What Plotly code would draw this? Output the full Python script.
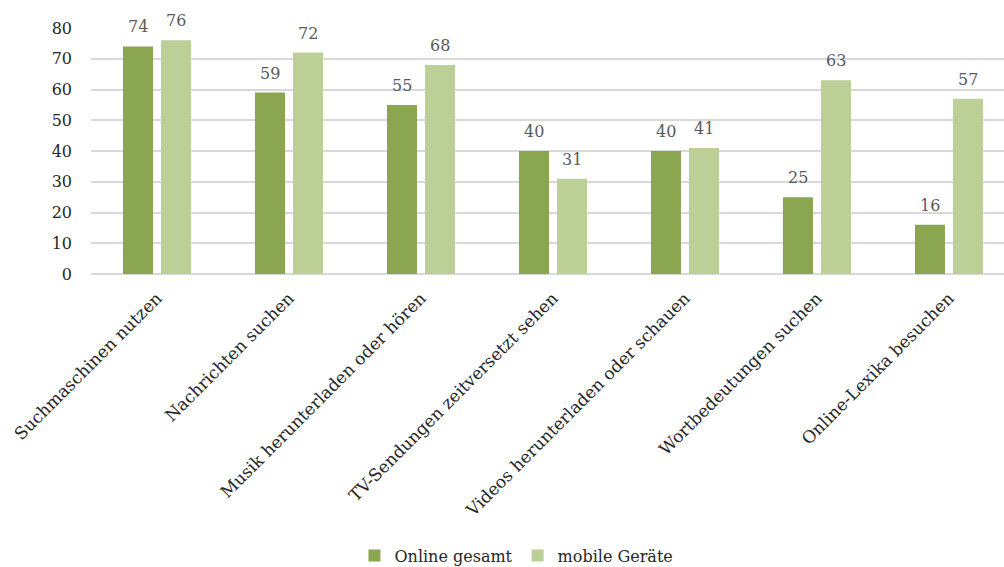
import plotly.graph_objects as go

categories = ["Suchmaschinen nutzen", "Nachrichten suchen", "Musik herunterladen oder hören",
              "TV-Sendungen zeitversetzt sehen", "Videos herunterladen oder schauen",
              "Wortbedeutungen suchen", "Online-Lexika besuchen"]
online_gesamt = [74, 59, 55, 40, 40, 25, 16]
mobile_geraete = [76, 72, 68, 31, 41, 63, 57]
y_ticks = [0, 10, 20, 30, 40, 50, 60, 70, 80]

FONT = "DejaVu Serif"
series = [("Online gesamt", online_gesamt, "#8BA650", -0.144),
          ("mobile Geräte", mobile_geraete, "#BBCF97", 0.144)]

fig = go.Figure()
for name, vals, color, off in series:
    fig.add_trace(go.Bar(x=categories, y=vals, name=name,
                         marker=dict(color=color, line=dict(width=0))))
    for i, v in enumerate(vals):
        fig.add_annotation(x=i + off, y=v, xref="x", yref="y", text=str(v),
                           showarrow=False, yanchor="bottom", yshift=8,
                           font=dict(family=FONT, size=16, color="#595959"))

fig.update_layout(
    width=1004, height=567,
    margin=dict(l=91, r=0, t=28, b=293, autoexpand=False),
    paper_bgcolor="white", plot_bgcolor="white",
    barmode="group", bargap=0.424, bargroupgap=0.21,
    font=dict(family=FONT, size=16, color="#262626"),
    showlegend=True,
    legend=dict(orientation="h", x=0.466, xanchor="center", y=-1.145, yanchor="middle",
                font=dict(family=FONT, size=16, color="#262626"), traceorder="normal"),
)
fig.update_xaxes(range=[-0.5, 6.417], tickangle=-45, showgrid=False, showline=False,
                 ticks="", ticklabelstandoff=10, automargin=False,
                 tickfont=dict(family=FONT, size=17, color="#262626"))
fig.update_yaxes(range=[0, 80], tickvals=y_ticks, showgrid=True, gridcolor="#D9D9D9",
                 gridwidth=1.5, zeroline=True, zerolinecolor="#D9D9D9", zerolinewidth=1.5,
                 showline=False, ticks="", ticklabelstandoff=18, automargin=False,
                 tickfont=dict(family=FONT, size=16, color="#262626"))

fig.write_html("out.html")
